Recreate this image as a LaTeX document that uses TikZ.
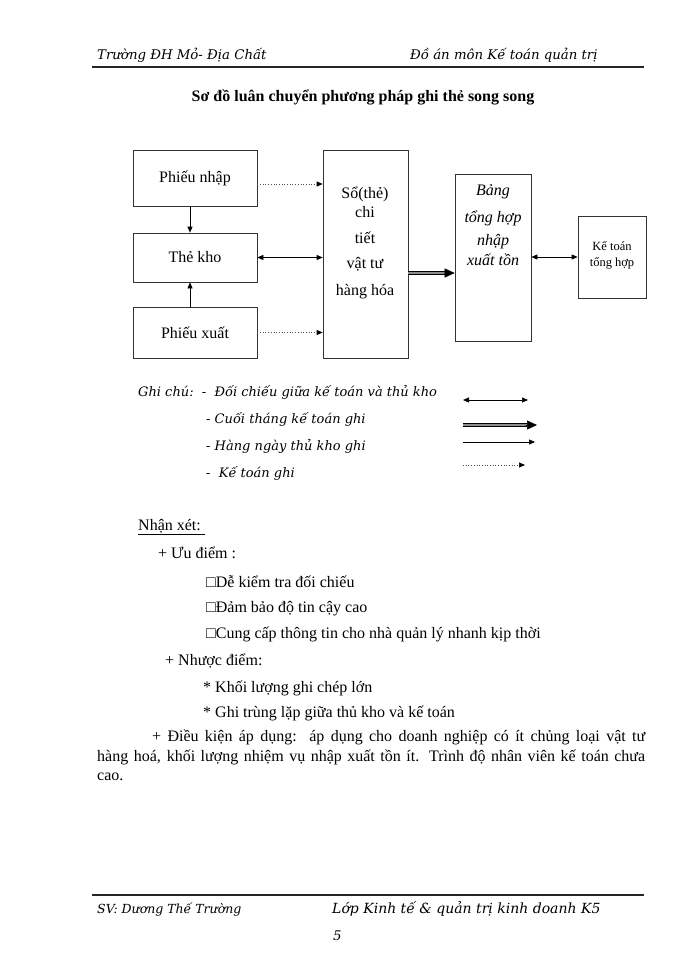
\documentclass[tikz,border=0pt]{standalone}
\usepackage{fontspec}
\setmainfont{Liberation Serif}
\newfontfamily\itf{DejaVu Serif}
\usetikzlibrary{arrows.meta}
\begin{document}
\begin{tikzpicture}[x=1pt,y=-1pt,
  box/.style={draw=black!80, line width=0.7pt, inner sep=0pt},
  txt/.style={inner sep=0pt, anchor=base west},
  ctxt/.style={inner sep=0pt, anchor=base},
  itx/.style={font=\itf\itshape\fontsize{13.3}{15}\selectfont},
  lgx/.style={font=\itf\itshape\fontsize{13}{15}\selectfont},
  rm/.style={font=\fontsize{16}{19}\selectfont},
  dotarrow/.style={draw=black!70, line width=0.7pt, dotted, -{Triangle[length=6pt,width=5pt,black]}},
  solarrow/.style={draw=black, line width=0.7pt, -{Triangle[length=6pt,width=5pt]}},
  biarrow/.style={draw=black, line width=0.7pt, {Triangle[length=6pt,width=5pt]}-{Triangle[length=6pt,width=5pt]}},
  thickshaft/.style={draw=black, line width=0.7pt, double=black!45, double distance=2.6pt},
  thickhead/.style={draw=black, line width=0.6pt, -{Triangle[length=10pt,width=9pt]}}
]
\useasboundingbox[fill=white] (0,0) rectangle (700,960);

% header
\node[txt, itx] (h1) at (97,60) {Trường ĐH Mỏ- Địa Chất};
\node[txt, itx] (h2) at (410,60) {Đồ án môn Kế toán quản trị};
\coordinate (hl1) at (92,67);
\coordinate (hl2) at (644,67);
\draw[line width=1.6pt, black!85] (hl1) -- (hl2);

% title
\node[ctxt, font=\bfseries\fontsize{16}{19}\selectfont] (title) at (363,102) {Sơ đồ luân chuyển phương pháp ghi thẻ song song};

% boxes
\node[box, minimum width=124pt, minimum height=56pt, rm] (pn) at (195,178) {Phiếu nhập};
\node[box, minimum width=124pt, minimum height=49pt, rm] (tk) at (195,257.5) {Thẻ kho};
\node[box, minimum width=124pt, minimum height=51pt, rm] (px) at (195,332.5) {Phiếu xuất};
\node[box, minimum width=85pt, minimum height=208pt] (so) at (365.5,254) {};
\node[box, minimum width=76pt, minimum height=167pt] (bg) at (493,257.5) {};
\node[box, minimum width=68pt, minimum height=82pt] (kt) at (612,257) {};

% texts in Sổ box
\node[ctxt, rm] (s1) at (365,198) {Sổ(thẻ)};
\node[ctxt, rm] (s2) at (365,217) {chi};
\node[ctxt, rm] (s3) at (365,243) {tiết};
\node[ctxt, rm] (s4) at (365,268) {vật tư};
\node[ctxt, rm] (s5) at (365,295) {hàng hóa};

% texts in Bảng box
\node[ctxt, font=\itshape\fontsize{16}{19}\selectfont] (b1) at (493,195) {Bảng};
\node[ctxt, font=\itshape\fontsize{16}{19}\selectfont] (b2) at (493,222) {tổng hợp};
\node[ctxt, font=\itshape\fontsize{16}{19}\selectfont] (b3) at (493,245) {nhập};
\node[ctxt, font=\itshape\fontsize{16}{19}\selectfont] (b4) at (493,265) {xuất tồn};

% texts in Kế toán box
\node[ctxt, font=\fontsize{12.5}{14}\selectfont] (k1) at (612,250) {Kế toán};
\node[ctxt, font=\fontsize{12.5}{14}\selectfont] (k2) at (612,266) {tổng hợp};

% connectors
\draw[dotarrow] ([yshift=-6pt]pn.east) -- ([yshift=-6pt]pn.east -| so.west);
\draw[dotarrow] (px.east) -- (px.east -| so.west);
\draw[biarrow] (tk.east) -- (tk.east -| so.west);
\draw[solarrow] ([xshift=-5pt]pn.south) -- ([xshift=-5pt]tk.north);
\draw[solarrow] ([xshift=-5pt]px.north) -- ([xshift=-5pt]tk.south);
\coordinate (bgin) at ([yshift=-15.5pt]bg.west);
\coordinate (bgpre) at ([xshift=-9pt]bgin);
\draw[thickshaft] (bgin -| so.east) -- (bgpre);
\draw[thickhead] ([xshift=-1pt]bgpre) -- (bgin);
\draw[biarrow] (bg.east |- kt.west) -- (kt.west);

% legend
\node[txt, lgx] (g1) at (138,396) {Ghi chú:\ \ -\ \ Đối chiếu giữa kế toán và thủ kho};
\node[txt, lgx] (g2) at (206,423) {- Cuối tháng kế toán ghi};
\node[txt, lgx] (g3) at (206,450) {- Hàng ngày thủ kho ghi};
\node[txt, lgx] (g4) at (206,477) {-\ \ Kế toán ghi};
\coordinate (la1) at (463,400); \coordinate (lb1) at (528,400);
\coordinate (la2) at (463,425); \coordinate (lb2) at (537,425);
\coordinate (lp2) at (527,425);
\coordinate (la3) at (463,442); \coordinate (lb3) at (535,442);
\coordinate (la4) at (463,465); \coordinate (lb4) at (525,465);
\draw[biarrow] (la1) -- (lb1);
\draw[thickshaft] (la2) -- (lp2);
\draw[thickhead] ([xshift=-1pt]lp2) -- (lb2);
\draw[solarrow] (la3) -- (lb3);
\draw[dotarrow] (la4) -- (lb4);

% remarks
\node[txt, rm] (n0) at (138,530) {\underline{Nhận xét:\ }};
\node[txt, rm] (n1) at (158,558) {+ Ưu điểm :};
\node[txt, rm] (n2) at (206,587) {□Dễ kiểm tra đối chiếu};
\node[txt, rm] (n3) at (206,612) {□Đảm bảo độ tin cậy cao};
\node[txt, rm] (n4) at (206,638) {□Cung cấp thông tin cho nhà quản lý nhanh kịp thời};
\node[txt, rm] (n5) at (165,665) {+ Nhược điểm:};
\node[txt, rm] (n6) at (203,692) {* Khối lượng ghi chép lớn};
\node[txt, rm] (n7) at (203,717) {* Ghi trùng lặp giữa thủ kho và kế toán};

\node[txt, rm] (p1) at (152,741) {\hbox to 493pt{+ Điều kiện áp dụng:\ \ áp dụng cho doanh nghiệp có ít chủng loại vật tư}};
\node[txt, rm] (p2) at (97,761) {\hbox to 548pt{hàng hoá, khối lượng nhiệm vụ nhập xuất tồn ít. Trình độ nhân viên kế toán chưa}};
\node[txt, rm] (p3) at (97,780) {cao.};

% footer
\coordinate (fl1) at (92,895);
\coordinate (fl2) at (644,895);
\draw[line width=1.6pt, black!85] (fl1) -- (fl2);
\node[txt, font=\itf\itshape\fontsize{12.5}{15}\selectfont] (f1) at (97,913) {SV: Dương Thế Trường};
\node[txt, font=\itf\itshape\fontsize{14}{16}\selectfont] (f2) at (332,913) {Lớp Kinh tế \& quản trị kinh doanh K5};
\node[txt, itx] (f3) at (333,940) {5};
\end{tikzpicture}
\end{document}
